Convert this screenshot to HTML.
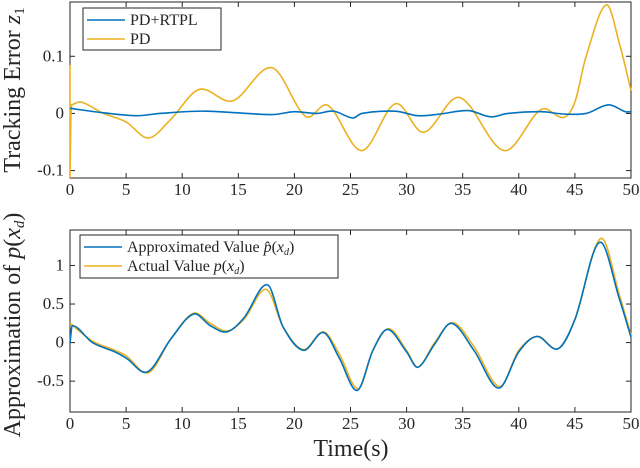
<!DOCTYPE html>
<html><head><meta charset="utf-8"><style>
body{margin:0;background:#fff}
svg text{font-family:"Liberation Serif",serif;fill:#262626}
</style></head><body>
<svg id="c" width="640" height="463" viewBox="0 0 640 463" xmlns="http://www.w3.org/2000/svg"></svg>
<script>
const xTicks=[0,5,10,15,20,25,30,35,40,45,50];
const topTicks=[-0.1,0,0.1];
const botTicks=[-0.5,0,0.5,1];
const topT=[0.15,1,3,5,7,9,11.5,14.5,18,21,23,26,29,31.5,34.7,38.7,42,44,45,46,47.8,49,50];
const pdVals=[0.015,0.02,0.0,-0.015,-0.043,-0.01,0.042,0.022,0.08,-0.005,0.014,-0.065,0.017,-0.033,0.028,-0.065,0.007,-0.007,0.02,0.1,0.19,0.12,0.04];
const rtT=[0,3,6,8,12,18,20,22,23.5,25.2,26,29,31,33,35.5,37.5,39,42,44,46,48,49.5,50];
const rtVals=[0.009,0.001,-0.004,0,0.004,-0.002,0.003,0,0.004,-0.008,0,0.004,-0.004,-0.001,0.005,-0.006,0,0.003,-0.001,0,0.015,0.003,0.003];
const actT=[0,2,4,5,7,9,11,12.5,14,15.5,17.5,19,20.8,22.6,24,25.7,27,28.4,30,31,32.5,34.1,36,38.3,40,41.7,43.5,45,47.3,49,50];
const actVals=[0.25,0.02,-0.1,-0.17,-0.39,0.05,0.38,0.25,0.15,0.3,0.69,0.2,-0.09,0.14,-0.15,-0.6,-0.1,0.18,-0.1,-0.32,0.0,0.26,-0.05,-0.57,-0.1,0.08,-0.08,0.3,1.35,0.6,0.1];
const apxT=[0,0.2,2,4,5,6.9,9,11,12.5,14,15.5,17.6,19,20.8,22.6,24,25.6,27,28.3,30,31,32.5,34,36,38.2,40,41.6,43.5,45,47.2,49,50];
const apxVals=[0,0.22,0.0,-0.12,-0.2,-0.38,0.05,0.37,0.22,0.14,0.32,0.75,0.2,-0.1,0.13,-0.2,-0.62,-0.1,0.17,-0.12,-0.32,-0.02,0.25,-0.1,-0.59,-0.12,0.08,-0.08,0.3,1.3,0.55,0.07];

const svg=document.getElementById('c');const NS='http://www.w3.org/2000/svg';
function mk(t,a,p){const e=document.createElementNS(NS,t);for(const k in a)e.setAttribute(k,a[k]);(p||svg).appendChild(e);return e;}
const X0=70,X1=631;const sx=v=>X0+(v/50)*(X1-X0);
function axes(top,bot,ymin,ymax,ticks,name){
 const sy=v=>bot-(v-ymin)/(ymax-ymin)*(bot-top);
 const r=mk('rect',{x:X0,y:top,width:X1-X0,height:bot-top,fill:'none',stroke:'#262626','stroke-width':1});
 
 xTicks.forEach(t=>{mk('line',{x1:sx(t),x2:sx(t),y1:bot,y2:bot-5,stroke:'#262626'});mk('line',{x1:sx(t),x2:sx(t),y1:top,y2:top+5,stroke:'#262626'});
  const tx=mk('text',{x:sx(t),y:bot+17,'text-anchor':'middle','font-size':17});tx.textContent=t;
  });
 ticks.forEach(t=>{mk('line',{x1:X0,x2:X0+5,y1:sy(t),y2:sy(t),stroke:'#262626'});mk('line',{x1:X1,x2:X1-5,y1:sy(t),y2:sy(t),stroke:'#262626'});
  const tx=mk('text',{x:X0-6,y:sy(t)+5,'text-anchor':'end','font-size':17});tx.textContent=t;
  });
 return sy;}
function curve(ts,vs,sy,color,name,start){
 const p=ts.map((t,i)=>[sx(t),sy(vs[i])]);let d=start?start+' L'+p[0][0]+','+p[0][1]:'M'+p[0][0]+','+p[0][1];
 for(let i=0;i<p.length-1;i++){const p0=p[i-1]||p[i],p1=p[i],p2=p[i+1],p3=p[i+2]||p2;
  const h=p2[0]-p1[0];
  const m1=(p2[1]-p0[1])/(p2[0]-p0[0]||1),m2=(p3[1]-p1[1])/(p3[0]-p1[0]||1);
  d+=` C${p1[0]+h/3},${p1[1]+m1*h/3} ${p2[0]-h/3},${p2[1]-m2*h/3} ${p2[0]},${p2[1]}`;}
 const e=mk('path',{d:d,fill:'none',stroke:color,'stroke-width':1.6});
 }
const sy1=axes(2,178,-0.113,0.195,topTicks,'top');
curve(topT,pdVals,sy1,'#EDB120','pd-line',`M${sx(0)},${sy1(0.085)} L${sx(0)},${sy1(-0.113)} L${sx(0.08)},${sy1(0.0)}`);
curve(rtT,rtVals,sy1,'#0072BD','pd-rtpl-line');
const sy2=axes(230,412,-0.9,1.46,botTicks,'bottom');
curve(actT,actVals,sy2,'#EDB120','actual-value-line');
curve(apxT,apxVals,sy2,'#0072BD','approximated-value-line');
function legend(x,y,w,h,items,name){const g=mk('g',{});
 mk('rect',{x:x,y:y,width:w,height:h,fill:'#fff',stroke:'#262626'},g);
 items.forEach((it,i)=>{const yy=y+12+i*19;mk('line',{x1:x+4,x2:x+42,y1:yy,y2:yy,stroke:it[1],'stroke-width':1.6},g);
  const t=mk('text',{x:x+47,y:yy+5,'font-size':16},g);t.innerHTML=it[0];
  });}
legend(83,8,138,42,[['PD+RTPL','#0072BD'],['PD','#EDB120']],'top-legend');
legend(80,235,258,43,[['Approximated Value <tspan font-style="italic">p̂</tspan>(<tspan font-style="italic">x</tspan><tspan font-size="10" dy="3" font-style="italic">d</tspan><tspan dy="-3">)</tspan>','#0072BD'],['Actual Value <tspan font-style="italic">p</tspan>(<tspan font-style="italic">x</tspan><tspan font-size="10" dy="3" font-style="italic">d</tspan><tspan dy="-3">)</tspan>','#EDB120']],'bottom-legend');
let t=mk('text',{x:0,y:0,'font-size':24,'text-anchor':'middle',transform:'translate(20,90) rotate(-90)'});
t.innerHTML='Tracking Error <tspan font-style="italic">z</tspan><tspan font-size="15" dy="4">1</tspan>';

t=mk('text',{x:0,y:0,'font-size':24,'text-anchor':'middle',transform:'translate(20,325) rotate(-90)'});
t.innerHTML='Approximation of <tspan font-style="italic">p</tspan>(<tspan font-style="italic">x</tspan><tspan font-size="15" dy="4" font-style="italic">d</tspan><tspan dy="-4">)</tspan>';

t=mk('text',{x:351,y:456,'font-size':24,'text-anchor':'middle'});t.textContent='Time(s)';

</script>
</body></html>
